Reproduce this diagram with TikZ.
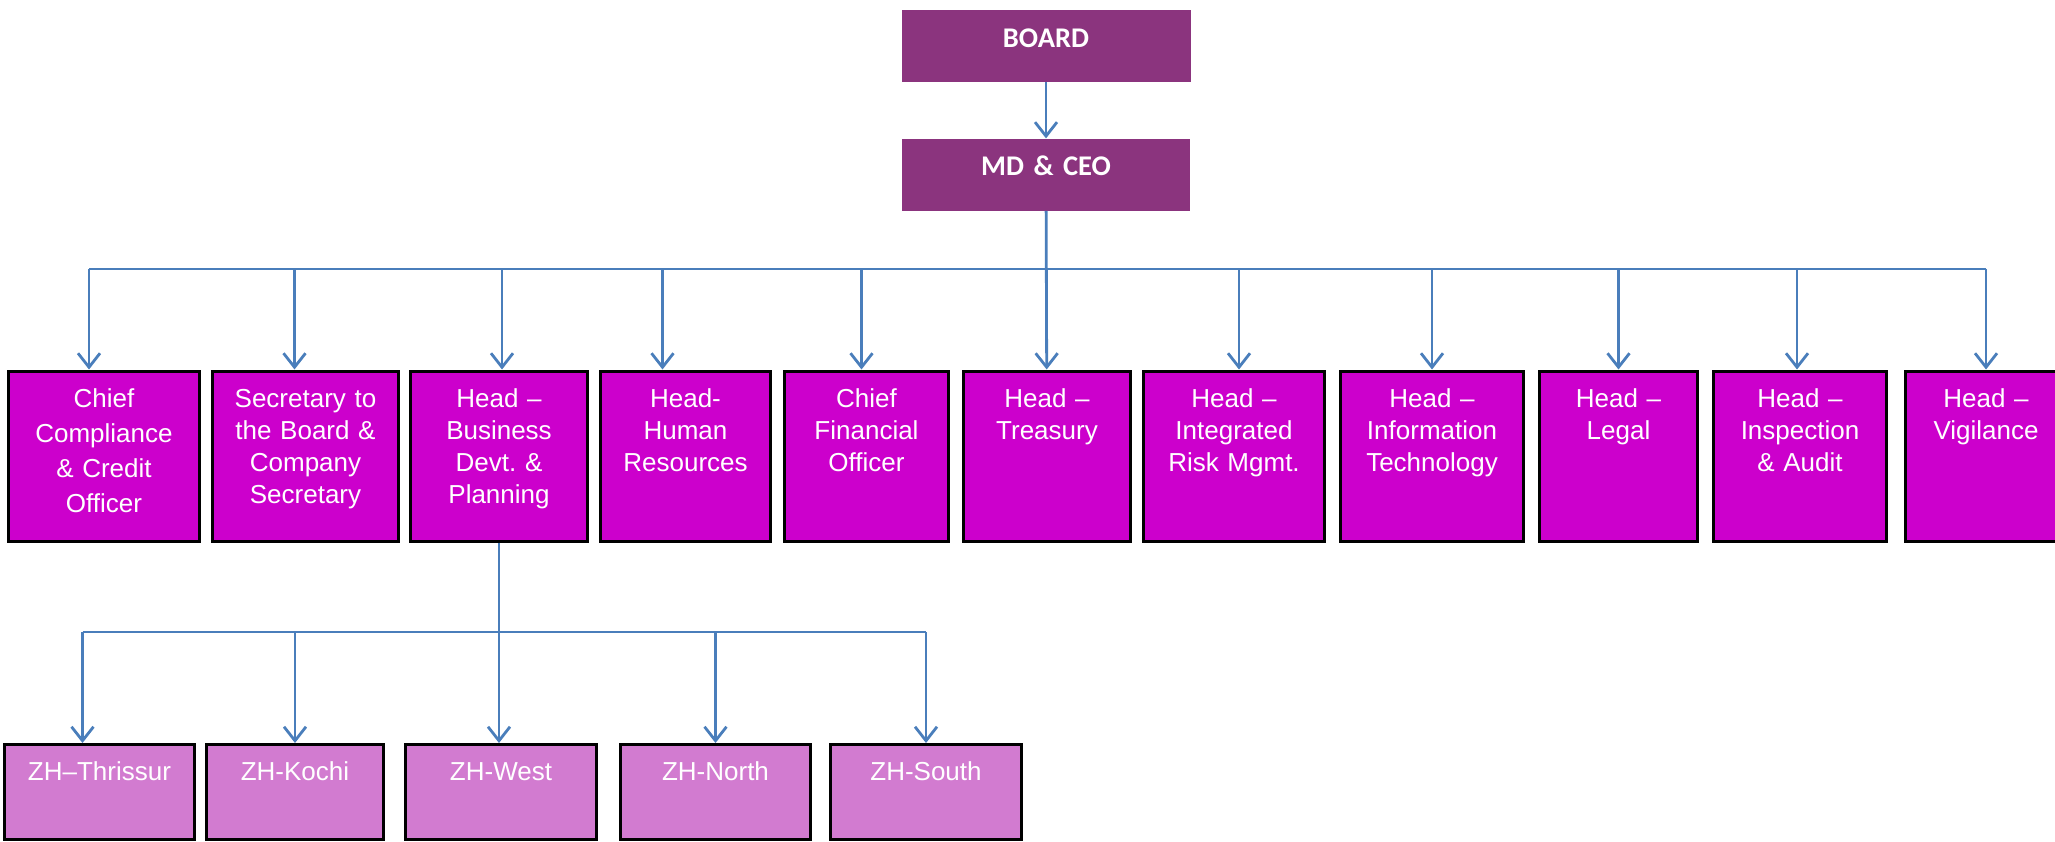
\documentclass[tikz,border=0pt]{standalone}
\usepackage{fontspec}
\setmainfont{Liberation Sans}
\newfontfamily\carlito{Carlito}
\usetikzlibrary{arrows.meta, calc, positioning}
\definecolor{boardpurple}{RGB}{139,52,126}
\definecolor{headmagenta}{RGB}{204,0,204}
\definecolor{zonepink}{RGB}{210,123,208}
\definecolor{linkblue}{RGB}{74,126,187}
\tikzstyle{topbox} = [rectangle, inner sep=0pt, fill=boardpurple, text=white, align=center, text width=289pt, text height=37pt, text depth=35pt, font=\carlito\bfseries\fontsize{28.5}{34}\selectfont]
\tikzstyle{headbox} = [rectangle, draw=black, line width=3pt, inner sep=0pt, fill=headmagenta, text=white, align=center, text width=170pt, text height=36pt, text depth=134pt, font=\fontsize{26}{32}\selectfont]
\tikzstyle{zonebox} = [headbox, fill=zonepink, text depth=59pt]
\tikzstyle{link} = [line width=2.8pt, draw=linkblue]
\tikzstyle{arrow} = [link, -{Straight Barb[length=14pt, width=22pt]}]
\begin{document}
\begin{tikzpicture}[x=1pt, y=-1pt, node distance = 13pt, auto]
		\path [use as bounding box, clip] (0,0) rectangle (2055,842);
		\node (Board) [topbox, anchor=north] at (1046,10) {BOARD};
		\node (MDCEO) [topbox, below = 56pt of Board, text width=288pt] {MD \& CEO};
		\coordinate (Bus) at (0,269);
		\coordinate (SubBus) at (0,632);

		\node (Compliance) [headbox, anchor=north west, text width=191pt, font=\fontsize{26}{35}\selectfont] at (7,369.5) {Chief\\Compliance\\\& Credit\\Officer};
		\node (Secretary) [headbox, right = 10pt of Compliance, text width=186pt] {Secretary to\\the Board \&\\Company\\Secretary};
		\node (Business) [headbox, right = 9pt of Secretary, text width=177pt] {Head –\\Business\\Devt.\ \&\\Planning};
		\node (HR) [headbox, right = 10pt of Business, text width=170pt] {Head-\\Human\\Resources};
		\node (CFO) [headbox, right = 11pt of HR, text width=164pt] {Chief\\Financial\\Officer};
		\node (Treasury) [headbox, right = 12pt of CFO, text width=167pt] {Head –\\Treasury};
		\node (Risk) [headbox, right = 10pt of Treasury, text width=181pt] {Head –\\Integrated\\Risk Mgmt.};
		\node (IT) [headbox, right = 13pt of Risk, text width=183pt] {Head –\\Information\\Technology};
		\node (Legal) [headbox, right = 13pt of IT, text width=158pt] {Head –\\Legal};
		\node (Inspection) [headbox, right = 13pt of Legal, text width=173pt] {Head –\\Inspection\\\& Audit};
		\node (Vigilance) [headbox, right = 16pt of Inspection, text width=161pt] {Head –\\Vigilance};

		\node (ZHThrissur) [zonebox, anchor=north west, text width=190pt] at (3,743) {ZH–Thrissur};
		\node (ZHKochi) [zonebox, right = 9pt of ZHThrissur, text width=177pt] {ZH-Kochi};
		\node (ZHWest) [zonebox, right = 19pt of ZHKochi, text width=191pt] {ZH-West};
		\node (ZHNorth) [zonebox, right = 21pt of ZHWest, text width=190pt] {ZH-North};
		\node (ZHSouth) [zonebox, right = 17pt of ZHNorth, text width=191pt] {ZH-South};

		\draw [arrow] (Board) -- (MDCEO);
		\draw [arrow] (MDCEO) -- (Treasury);
		\draw [link] ([xshift=-15pt]Compliance.north |- Bus) -- (Vigilance.north |- Bus);
		\draw [arrow] ([xshift=-15pt]Compliance.north |- Bus) -- ([xshift=-15pt]Compliance.north);
		\draw [arrow] ([xshift=-11pt]Secretary.north |- Bus) -- ([xshift=-11pt]Secretary.north);
		\draw [arrow] ([xshift=3pt]Business.north |- Bus) -- ([xshift=3pt]Business.north);
		\draw [arrow] ([xshift=-23pt]HR.north |- Bus) -- ([xshift=-23pt]HR.north);
		\draw [arrow] ([xshift=-5pt]CFO.north |- Bus) -- ([xshift=-5pt]CFO.north);
		\draw [arrow] ([xshift=5pt]Risk.north |- Bus) -- ([xshift=5pt]Risk.north);
		\draw [arrow] (IT.north |- Bus) -- (IT.north);
		\draw [arrow] (Legal.north |- Bus) -- (Legal.north);
		\draw [arrow] ([xshift=-3pt]Inspection.north |- Bus) -- ([xshift=-3pt]Inspection.north);
		\draw [arrow] (Vigilance.north |- Bus) -- (Vigilance.north);

		\draw [link] ([xshift=-17pt]ZHThrissur.north |- SubBus) -- (ZHSouth.north |- SubBus);
		\draw [arrow] (Business.south) -- (Business.south |- ZHWest.north);
		\draw [arrow] ([xshift=-17pt]ZHThrissur.north |- SubBus) -- ([xshift=-17pt]ZHThrissur.north);
		\draw [arrow] (ZHKochi.north |- SubBus) -- (ZHKochi.north);
		\draw [arrow] (ZHNorth.north |- SubBus) -- (ZHNorth.north);
		\draw [arrow] (ZHSouth.north |- SubBus) -- (ZHSouth.north);
	\end{tikzpicture}
\end{document}
